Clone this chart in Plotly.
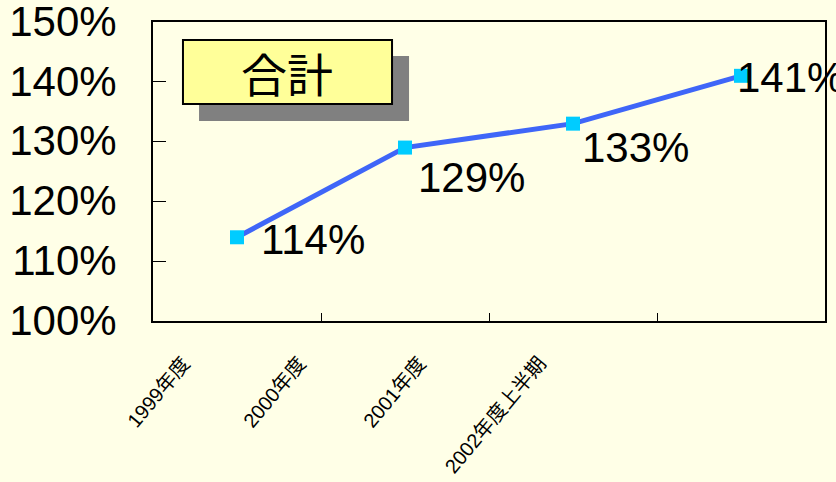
import plotly.graph_objects as go

categories = ["1999年度", "2000年度", "2001年度", "2002年度上半期"]
values = [114, 129, 133, 141]
value_labels = ["114%", "129%", "133%", "141%"]
y_ticks = [100, 110, 120, 130, 140, 150]
y_tick_text = ["100%", "110%", "120%", "130%", "140%", "150%"]
title_text = "合計"

BG = "#FFFFE7"
NUM_FONT = "Liberation Sans, Arial, sans-serif"
CJK_FONT = "Liberation Sans, Noto Sans CJK JP, sans-serif"

fig = go.Figure()
fig.add_trace(go.Scatter(
    x=categories, y=values, mode="lines+markers",
    line=dict(color="#3F66F8", width=5),
    marker=dict(symbol="square", size=14, color="#00CCFF", line=dict(width=0)),
    hoverinfo="skip", cliponaxis=False,
))

# data labels (manually placed offsets as in reference)
label_shift = [(22, -2), (11, -30), (7, -24), (-6, -2)]
for c, v, t, (dx, dy) in zip(categories, values, value_labels, label_shift):
    fig.add_annotation(x=c, y=v, xref="x", yref="y", text=t, showarrow=False,
                       xanchor="left", yanchor="middle", xshift=dx, yshift=dy,
                       font=dict(family=NUM_FONT, size=42, color="black"))

# rotated category labels
x_label_shift = [-40, -92, -140, -188]
for c, dx in zip(categories, x_label_shift):
    fig.add_annotation(x=c, y=-0.095, xref="x", yref="paper", text=c, showarrow=False,
                       xanchor="right", yanchor="top", xshift=dx, textangle=-50,
                       font=dict(family=CJK_FONT, size=20, color="black"))

# title box with shadow
fig.add_shape(type="rect", xref="paper", yref="paper", x0=0.0685, x1=0.3810, y0=0.6689, y1=0.8863,
              fillcolor="#808080", line=dict(width=0), layer="above")
fig.add_shape(type="rect", xref="paper", yref="paper", x0=0.0446, x1=0.3557, y0=0.7258, y1=0.9398,
              fillcolor="#FFFF99", line=dict(color="black", width=2), layer="above")
fig.add_annotation(x=0.1994, y=0.8328, xref="paper", yref="paper", text=title_text, showarrow=False,
                   xanchor="center", yanchor="middle",
                   font=dict(family="Noto Sans CJK JP", size=46, color="black"))

fig.update_layout(
    width=836, height=482,
    margin=dict(l=153, r=11, t=22, b=161, autoexpand=False),
    paper_bgcolor=BG, plot_bgcolor=BG,
    showlegend=False,
)
fig.update_xaxes(
    type="category", range=[-0.5, 3.5], autorange=False, showticklabels=False, tickson="boundaries",
    ticks="inside", ticklen=8, tickwidth=1, tickcolor="black",
    showline=True, linecolor="black", linewidth=2, mirror=True,
    showgrid=False, zeroline=False, automargin=False,
)
fig.update_yaxes(
    range=[100, 150], autorange=False, tickvals=y_ticks, ticktext=y_tick_text,
    ticks="inside", ticklen=13, tickwidth=1, tickcolor="black",
    showline=True, linecolor="black", linewidth=2, mirror=True,
    showgrid=False, zeroline=False, automargin=False,
    ticklabelstandoff=26, ticklabelshift=-1, ticklabeloverflow="allow",
    tickfont=dict(family=NUM_FONT, size=42, color="black"),
)

fig.write_html(
    "out.html",
    config={"displayModeBar": False},
    post_script="document.body.style.margin='0';document.body.style.background='#FFFFE7';document.body.style.overflow='hidden';",
)
